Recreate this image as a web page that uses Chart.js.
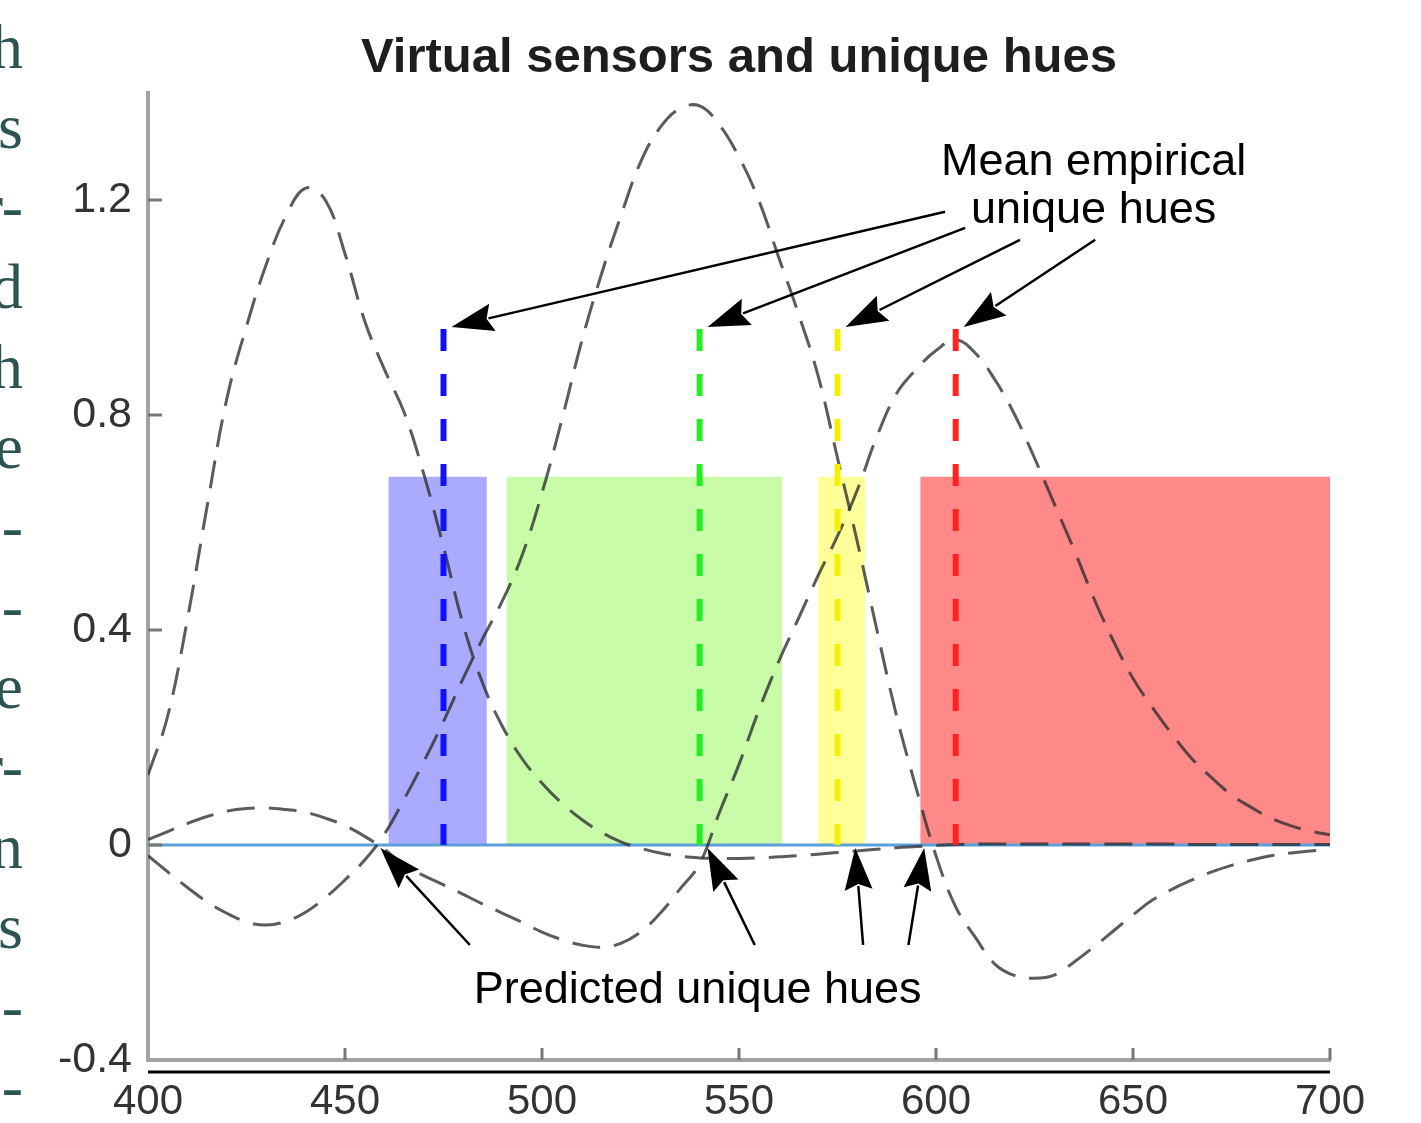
<!DOCTYPE html>
<html>
<head>
<meta charset="utf-8">
<title>Virtual sensors and unique hues</title>
<script src="https://cdn.jsdelivr.net/npm/chart.js@4.4.1/dist/chart.umd.min.js"></script>
<style>
  html, body { margin: 0; padding: 0; background: #fff; }
  #wrap { position: relative; width: 1421px; height: 1123px; overflow: hidden; }
  #c { position: absolute; left: 0; top: 0; }
  #margin { position: absolute; left: 0; top: 0; width: 23px; height: 1123px; overflow: hidden; }
  #margin div { position: absolute; right: 0; white-space: nowrap; font-family: "Liberation Serif", serif;
                font-size: 64px; line-height: 64px; color: #2d5352; }
</style>
</head>
<body>
<div id="wrap">
  <canvas id="c" width="1421" height="1123"></canvas>
  <div id="margin"></div>
</div>
<script>
// ---- data -------------------------------------------------------------
const wavelengths = [
  400, 405, 410, 415, 420, 425, 430, 435, 440, 445,
  450, 455, 460, 465, 470, 475, 480, 485, 490, 495,
  500, 505, 510, 515, 520, 525, 530, 535, 540, 545,
  550, 555, 560, 565, 570, 575, 580, 585, 590, 595,
  600, 605, 610, 615, 620, 625, 630, 635, 640, 645,
  650, 655, 660, 665, 670, 675, 680, 685, 690, 695,
  700
];

// short-wave virtual sensor
const sensorS = [
  0.13, 0.24, 0.42, 0.63, 0.83, 0.965, 1.08, 1.17, 1.222, 1.2,
  1.10, 0.975, 0.885, 0.805, 0.69, 0.555, 0.41, 0.30, 0.22, 0.16,
  0.115, 0.078, 0.048, 0.024, 0.006, -0.006, -0.015, -0.021, -0.024, -0.025,
  -0.025, -0.024, -0.022, -0.02, -0.017, -0.014, -0.011, -0.008, -0.005, -0.003,
  -0.001, 0.001, 0.002, 0.002, 0.002, 0.002, 0.002, 0.002, 0.002, 0.002,
  0.002, 0.002, 0.002, 0.001, 0.001, 0.001, 0.001, 0.001, 0.001, 0.001,
  0.001
];

// middle-wave virtual sensor
const sensorM = [
  -0.02, -0.05, -0.079, -0.106, -0.127, -0.143, -0.149, -0.142, -0.125, -0.098,
  -0.065, -0.028, 0.02, 0.085, 0.155, 0.23, 0.31, 0.385, 0.455, 0.54,
  0.655, 0.79, 0.935, 1.06, 1.17, 1.27, 1.335, 1.37, 1.375, 1.34,
  1.28, 1.2, 1.095, 0.99, 0.875, 0.72, 0.565, 0.4, 0.24, 0.105,
  -0.02, -0.115, -0.172, -0.222, -0.243, -0.248, -0.242, -0.218, -0.19, -0.16,
  -0.13, -0.102, -0.082, -0.065, -0.05, -0.038, -0.028, -0.02, -0.015, -0.011,
  -0.009
];

// long-wave virtual sensor
const sensorL = [
  0.01, 0.025, 0.04, 0.053, 0.063, 0.068, 0.069, 0.066, 0.061, 0.05,
  0.036, 0.016, -0.008, -0.037, -0.057, -0.074, -0.092, -0.11, -0.127, -0.144,
  -0.162, -0.176, -0.186, -0.19, -0.183, -0.162, -0.127, -0.082, -0.035, 0.06,
  0.15, 0.25, 0.34, 0.42, 0.5, 0.575, 0.66, 0.76, 0.84, 0.885,
  0.92, 0.94, 0.915, 0.865, 0.8, 0.72, 0.635, 0.55, 0.46, 0.38,
  0.31, 0.255, 0.205, 0.16, 0.125, 0.093, 0.07, 0.05, 0.036, 0.026,
  0.019
];

// unique hue bands (nm) and their height
const hueNames     = ['blue', 'green', 'yellow', 'red'];
const bandStart    = [461, 491, 570, 596];
const bandEnd      = [486, 561, 582, 700];
const bandHeight   = 0.685;

// mean empirical unique hues (nm) and the height of their markers
const empiricalHues = [475, 540, 575, 605];
const empiricalTop  = 0.96;

// predicted unique hues (nm), on the zero line
const predictedHues = [459, 542, 579.5, 597];

const xTicks = [400, 450, 500, 550, 600, 650, 700];
const yTicks = [-0.4, 0, 0.4, 0.8, 1.2];

const marginText = ['h', 's', 'r-', 'd', 'h', 'e', '-', '-', 'e', 'r-', 'n', 's', '-', '-'];

// ---- styles -----------------------------------------------------------
const bandColors   = { blue: '#aaaaff', green: '#c8fca8', yellow: '#ffff99', red: '#ff8888' };
const markerColors = { blue: '#1010ff', green: '#22ee22', yellow: '#f2f200', red: '#ff2222' };
const curveColor   = 'rgba(45,45,45,0.78)';
const sansFont     = '"Liberation Sans", Arial, sans-serif';

// label / arrow layout (data coordinates for the arrow tails and text anchors)
const layoutNotes = {
  empiricalText: { x: 640, lines: [1.247, 1.158], text: ['Mean empirical', 'unique hues'] },
  empiricalTails: [[602.3, 1.178], [607.4, 1.148], [621.3, 1.126], [640.4, 1.126]],
  predictedText: { x: 539.5, y: -0.294, text: 'Predicted unique hues' },
  predictedTails: [[481.7, -0.186], [554.0, -0.186], [581.5, -0.186], [593.0, -0.186]]
};

// ---- margin fragments of the neighbouring text column -------------------
const margin = document.getElementById('margin');
marginText.forEach((t, i) => {
  const d = document.createElement('div');
  d.textContent = t;
  d.style.top = (68 + 80 * i - 53) + 'px';
  margin.appendChild(d);
});

// ---- datasets ---------------------------------------------------------
const datasets = [];

hueNames.forEach((h, i) => {
  datasets.push({
    data: [{ x: bandStart[i], y: bandHeight }, { x: bandEnd[i], y: bandHeight }],
    fill: 'origin', backgroundColor: bandColors[h],
    borderColor: 'transparent', borderWidth: 0, pointRadius: 0, order: 30
  });
});

datasets.push({
  data: [{ x: wavelengths[0], y: 0 }, { x: wavelengths[wavelengths.length - 1], y: 0 }],
  borderColor: '#5a9fd8', borderWidth: 3, pointRadius: 0, fill: false, order: 25
});

[sensorS, sensorM, sensorL].forEach(series => {
  datasets.push({
    data: wavelengths.map((w, i) => ({ x: w, y: series[i] })),
    borderColor: curveColor, borderWidth: 3, borderDash: [28, 14],
    tension: 0.4, pointRadius: 0, fill: false, order: 20
  });
});

hueNames.forEach((h, i) => {
  datasets.push({
    data: [{ x: empiricalHues[i], y: empiricalTop }, { x: empiricalHues[i], y: 0 }],
    borderColor: markerColors[h], borderWidth: 6, borderDash: [22, 23],
    borderCapStyle: 'butt', pointRadius: 0, fill: false, order: 10
  });
});

// ---- drawing helpers --------------------------------------------------
function arrow(ctx, x0, y0, x1, y1) {
  const ang = Math.atan2(y1 - y0, x1 - x0);
  const L = 42, W = 14;
  const c = Math.cos(ang), s = Math.sin(ang);
  const bx = x1 - L * c, by = y1 - L * s;
  ctx.beginPath();
  ctx.moveTo(x0, y0);
  ctx.lineTo(bx + 4 * c, by + 4 * s);
  ctx.lineWidth = 2.5;
  ctx.strokeStyle = '#000';
  ctx.stroke();
  ctx.beginPath();
  ctx.moveTo(x1, y1);
  ctx.lineTo(bx + W * s, by - W * c);
  ctx.lineTo(bx + 6 * c, by + 6 * s);
  ctx.lineTo(bx - W * s, by + W * c);
  ctx.closePath();
  ctx.fillStyle = '#000';
  ctx.fill();
}

const overlay = {
  id: 'overlay',
  afterDatasetsDraw(chart) {
    const { ctx, chartArea: a, scales: { x, y } } = chart;
    ctx.save();

    // inward tick marks
    ctx.strokeStyle = '#777';
    ctx.lineWidth = 3;
    yTicks.forEach(v => {
      if (v <= y.min) return;
      const py = Math.round(y.getPixelForValue(v));
      ctx.beginPath(); ctx.moveTo(a.left, py); ctx.lineTo(a.left + 14, py); ctx.stroke();
    });
    xTicks.forEach(v => {
      if (v <= x.min) return;
      const px = Math.round(x.getPixelForValue(v));
      ctx.beginPath(); ctx.moveTo(px, a.bottom); ctx.lineTo(px, a.bottom - 12); ctx.stroke();
    });

    // frame line under the axis
    ctx.strokeStyle = '#000';
    ctx.lineWidth = 3;
    ctx.beginPath();
    ctx.moveTo(a.left, a.bottom + 12);
    ctx.lineTo(a.right, a.bottom + 12);
    ctx.stroke();

    // title
    ctx.fillStyle = '#1e1e1e';
    ctx.font = 'bold 49px ' + sansFont;
    ctx.textAlign = 'center';
    ctx.textBaseline = 'alphabetic';
    ctx.fillText('Virtual sensors and unique hues', (a.left + a.right) / 2, 72);

    // arrows to the empirical markers
    empiricalHues.forEach((h, i) => {
      const t = layoutNotes.empiricalTails[i];
      arrow(ctx, x.getPixelForValue(t[0]), y.getPixelForValue(t[1]),
            x.getPixelForValue(h) + 8, y.getPixelForValue(empiricalTop) - 2);
    });
    // arrows to the predicted hues
    predictedHues.forEach((h, i) => {
      const t = layoutNotes.predictedTails[i];
      arrow(ctx, x.getPixelForValue(t[0]), y.getPixelForValue(t[1]),
            x.getPixelForValue(h), y.getPixelForValue(0) + 3);
    });

    // annotation text
    ctx.fillStyle = '#000';
    ctx.font = '45px ' + sansFont;
    ctx.textAlign = 'center';
    const et = layoutNotes.empiricalText;
    et.text.forEach((s, i) => ctx.fillText(s, x.getPixelForValue(et.x), y.getPixelForValue(et.lines[i])));
    const pt = layoutNotes.predictedText;
    ctx.fillText(pt.text, x.getPixelForValue(pt.x), y.getPixelForValue(pt.y));

    ctx.restore();
  }
};

// ---- chart ------------------------------------------------------------
new Chart(document.getElementById('c'), {
  type: 'line',
  data: { datasets },
  plugins: [overlay],
  options: {
    responsive: false,
    devicePixelRatio: 1,
    animation: false,
    layout: { padding: { top: 92.5, right: 91, left: 0, bottom: 0 } },
    plugins: { legend: { display: false }, tooltip: { enabled: false }, title: { display: false } },
    scales: {
      x: {
        type: 'linear', min: 400, max: 700,
        afterBuildTicks: s => { s.ticks = xTicks.map(v => ({ value: v })); },
        afterFit: s => { s.height = 63; },
        grid: { display: false, drawTicks: false },
        border: { display: true, color: '#a3a3a3', width: 4 },
        ticks: { padding: 17, color: '#333', font: { family: sansFont, size: 42 }, maxRotation: 0, autoSkip: false,
                 callback: v => String(v) }
      },
      y: {
        type: 'linear', min: -0.4, max: 1.4,
        afterBuildTicks: s => { s.ticks = yTicks.map(v => ({ value: v })); },
        afterFit: s => { s.width = 148; },
        grid: { display: false, drawTicks: false },
        border: { display: true, color: '#a3a3a3', width: 4 },
        ticks: { padding: 16, color: '#333', font: { family: sansFont, size: 43 }, autoSkip: false,
                 callback: v => String(v) }
      }
    }
  }
});
</script>
</body>
</html>
